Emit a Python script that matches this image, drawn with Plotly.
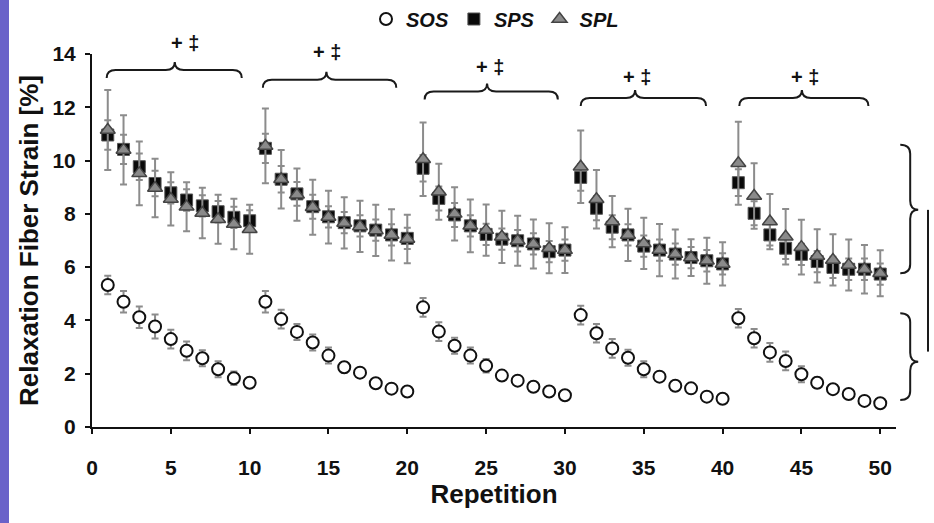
import plotly.graph_objects as go

# ---------------- data ----------------
repetition = list(range(1, 51))

sos = [5.33, 4.70, 4.12, 3.77, 3.30, 2.86, 2.58, 2.17, 1.83, 1.66,
       4.70, 4.05, 3.57, 3.17, 2.68, 2.24, 2.04, 1.64, 1.44, 1.33,
       4.49, 3.58, 3.05, 2.68, 2.30, 1.93, 1.74, 1.51, 1.33, 1.19,
       4.20, 3.52, 2.95, 2.60, 2.17, 1.89, 1.55, 1.45, 1.14, 1.06,
       4.08, 3.33, 2.80, 2.48, 1.98, 1.66, 1.42, 1.24, 0.98, 0.89]
sos_err = [0.35, 0.40, 0.40, 0.45, 0.35, 0.35, 0.30, 0.30, 0.25, 0.15,
           0.40, 0.35, 0.30, 0.30, 0.30, 0.20, 0.15, 0.15, 0.10, 0.10,
           0.35, 0.35, 0.30, 0.30, 0.25, 0.15, 0.15, 0.10, 0.10, 0.10,
           0.35, 0.35, 0.35, 0.30, 0.30, 0.15, 0.15, 0.15, 0.10, 0.10,
           0.35, 0.35, 0.35, 0.35, 0.30, 0.20, 0.15, 0.15, 0.10, 0.10]

sps = [10.96, 10.42, 9.77, 9.14, 8.79, 8.52, 8.30, 8.08, 7.87, 7.74,
       10.46, 9.30, 8.75, 8.27, 7.89, 7.67, 7.55, 7.39, 7.21, 7.08,
       9.71, 8.58, 7.96, 7.55, 7.23, 7.05, 6.99, 6.87, 6.58, 6.64,
       9.37, 8.21, 7.50, 7.21, 6.79, 6.64, 6.49, 6.36, 6.24, 6.12,
       9.17, 8.02, 7.21, 6.71, 6.48, 6.21, 5.99, 5.92, 5.92, 5.74]
sps_err = [0.55, 0.55, 0.50, 0.48, 0.40, 0.40, 0.40, 0.40, 0.40, 0.40,
           0.55, 0.50, 0.45, 0.45, 0.40, 0.40, 0.40, 0.40, 0.40, 0.40,
           0.50, 0.45, 0.45, 0.40, 0.40, 0.40, 0.40, 0.40, 0.40, 0.40,
           0.50, 0.45, 0.45, 0.40, 0.40, 0.40, 0.40, 0.40, 0.40, 0.40,
           0.50, 0.45, 0.40, 0.40, 0.40, 0.40, 0.40, 0.40, 0.40, 0.40]

spl = [11.15, 10.40, 9.52, 8.97, 8.56, 8.27, 8.03, 7.80, 7.62, 7.42,
       10.55, 9.30, 8.72, 8.25, 7.88, 7.66, 7.53, 7.38, 7.21, 7.06,
       10.05, 8.83, 8.00, 7.55, 7.39, 7.14, 6.99, 6.87, 6.71, 6.64,
       9.77, 8.55, 7.71, 7.21, 6.89, 6.64, 6.49, 6.36, 6.24, 6.12,
       9.90, 8.67, 7.71, 7.14, 6.75, 6.42, 6.27, 6.08, 5.92, 5.77]
spl_err = [1.50, 1.30, 1.20, 1.10, 1.00, 0.92, 0.95, 0.92, 0.95, 0.92,
           1.40, 1.10, 0.98, 1.03, 0.99, 0.96, 0.96, 0.96, 0.96, 0.91,
           1.38, 1.05, 1.00, 0.99, 0.96, 0.98, 0.94, 0.92, 0.94, 0.86,
           1.36, 1.10, 0.96, 0.98, 0.96, 0.98, 0.92, 0.69, 0.86, 0.81,
           1.56, 1.23, 1.04, 1.04, 1.03, 1.00, 0.96, 0.96, 0.91, 0.86]

x_ticks = [0, 5, 10, 15, 20, 25, 30, 35, 40, 45, 50]
y_ticks = [0, 2, 4, 6, 8, 10, 12, 14]

# significance brace annotations (one per block of 10 repetitions)
brace_start = [0.93, 10.84, 21.10, 31.00, 41.06]
brace_end = [9.50, 19.30, 29.55, 38.95, 49.25]
brace_tip = [5.25, 14.87, 25.06, 34.45, 45.03]
brace_level = [13.40, 13.03, 12.59, 12.35, 12.35]
sig_x = [5.90, 14.90, 25.25, 34.60, 45.20]
sig_y = [14.41, 14.09, 13.52, 13.15, 13.15]
sig_text = ["+ ‡"] * 5

# ---------------- layout geometry ----------------
W, H = 934, 523
ML, MR, MT, MB = 92, 38, 54, 96
X0, X1 = 0, 51
Y0, Y1 = 0, 14
PW = W - ML - MR
PH = H - MT - MB


def xp(x):
    return (x - X0) / (X1 - X0)


def yp(y):
    return (y - Y0) / (Y1 - Y0)


def px_x(p):  # absolute pixel -> paper
    return (p - ML) / PW


def px_y(p):
    return (H - MB - p) / PH


FONT = "Liberation Sans, Arial, Helvetica, sans-serif"
ERR_COL = "#8c8c8c"

fig = go.Figure()

fig.add_trace(go.Scatter(
    x=repetition, y=sos, mode="markers", name="SOS",
    error_y=dict(type="data", array=sos_err, color=ERR_COL, thickness=2, width=3.5),
    marker=dict(symbol="circle", size=12, color="white",
                line=dict(color="#111111", width=2)),
))
fig.add_trace(go.Scatter(
    x=repetition, y=sps, mode="markers", name="SPS",
    error_y=dict(type="data", array=sps_err, color=ERR_COL, thickness=2, width=3.5),
    marker=dict(symbol="square", size=12, color="#0a0a0a",
                line=dict(color="#555555", width=1)),
))
fig.add_trace(go.Scatter(
    x=repetition, y=spl, mode="markers", name="SPL",
    error_y=dict(type="data", array=spl_err, color=ERR_COL, thickness=2, width=3.5),
    marker=dict(symbol="triangle-up", size=13, color="#8a8a8a",
                line=dict(color="#444444", width=1.5)),
))

shapes = []
# purple strip on the left edge
shapes.append(dict(type="rect", xref="paper", yref="paper",
                   x0=px_x(0), x1=px_x(9), y0=px_y(H), y1=px_y(0),
                   fillcolor="#6a62c9", line=dict(width=0), layer="below"))

BR = dict(color="#1a1a1a", width=2)


def hbrace(x0, x1, xt, yl, drop=0.30, rise=0.30, r_px=9):
    a, b, t = xp(x0), xp(x1), xp(xt)
    ye, yline, ytip = yp(yl - drop), yp(yl), yp(yl + rise)
    d = r_px / PW
    path = (f"M {a},{ye} Q {a},{yline} {a + d},{yline} L {t - d},{yline} "
            f"Q {t},{yline} {t},{ytip} Q {t},{yline} {t + d},{yline} "
            f"L {b - d},{yline} Q {b},{yline} {b},{ye}")
    return dict(type="path", xref="paper", yref="paper", path=path, line=BR)


def vbrace(y_top, y_bot, y_tip, x_end, x_line, x_tip, r_px=9):
    t, b, m = yp(y_top), yp(y_bot), yp(y_tip)
    xe, xl, xt = xp(x_end), xp(x_line), xp(x_tip)
    d = r_px / PH
    path = (f"M {xe},{t} Q {xl},{t} {xl},{t - d} L {xl},{m + d} "
            f"Q {xl},{m} {xt},{m} Q {xl},{m} {xl},{m - d} "
            f"L {xl},{b + d} Q {xl},{b} {xe},{b}")
    return dict(type="path", xref="paper", yref="paper", path=path, line=BR)


for s, e, t, lv in zip(brace_start, brace_end, brace_tip, brace_level):
    shapes.append(hbrace(s, e, t, lv))

# right-hand braces grouping the upper (SPS/SPL) and lower (SOS) clusters
shapes.append(vbrace(10.59, 5.77, 8.15, 51.27, 51.90, 52.41))
shapes.append(vbrace(4.27, 1.01, 2.45, 51.27, 51.90, 52.41))
shapes.append(dict(type="line", xref="paper", yref="paper",
                   x0=xp(53.03), x1=xp(53.03), y0=yp(8.15), y1=yp(2.83),
                   line=dict(color="#1a1a1a", width=2)))

annotations = []
for sx, sy, st in zip(sig_x, sig_y, sig_text):
    annotations.append(dict(x=xp(sx), y=yp(sy), xref="paper", yref="paper",
                            text=st, showarrow=False,
                            font=dict(family=FONT, size=20, weight="bold",
                                      color="#111111"),
                            xanchor="center", yanchor="middle"))

fig.update_layout(
    width=W, height=H, autosize=False,
    margin=dict(l=ML, r=MR, t=MT, b=MB, pad=0, autoexpand=False),
    paper_bgcolor="white", plot_bgcolor="white",
    font=dict(family=FONT, color="#111111"),
    shapes=shapes, annotations=annotations,
    showlegend=True,
    legend=dict(orientation="h", xref="container", yref="container",
                x=495 / W, xanchor="center",
                y=1 - 19 / H, yanchor="middle",
                font=dict(family=FONT, size=20, style="italic", weight="bold",
                          color="#111111"),
                itemwidth=30, bgcolor="rgba(0,0,0,0)", traceorder="normal"),
    xaxis=dict(range=[X0, X1], tickvals=x_ticks, ticktext=[str(v) for v in x_ticks],
               showgrid=False, zeroline=False, showline=True,
               linecolor="#111111", linewidth=2,
               ticks="outside", ticklen=5, tickwidth=2, tickcolor="#111111",
               tickfont=dict(family=FONT, size=21, weight="bold", color="#111111"),
               ticklabelstandoff=16, automargin=False,
               title=dict(text="Repetition", standoff=7,
                          font=dict(family=FONT, size=26, weight="bold",
                                    color="#111111"))),
    yaxis=dict(range=[Y0, Y1], tickvals=y_ticks, ticktext=[str(v) for v in y_ticks],
               showgrid=False, zeroline=False, showline=True,
               linecolor="#111111", linewidth=2,
               ticks="outside", ticklen=5, tickwidth=2, tickcolor="#111111",
               tickfont=dict(family=FONT, size=21, weight="bold", color="#111111"),
               ticklabelstandoff=5, automargin=False,
               title=dict(text="Relaxation Fiber Strain [%]", standoff=6,
                          font=dict(family=FONT, size=26, weight="bold",
                                    color="#111111"))),
)

fig.write_html("out.html",
               config={"displayModeBar": False},
               post_script="document.body.style.margin='0';document.body.style.overflow='hidden';")
